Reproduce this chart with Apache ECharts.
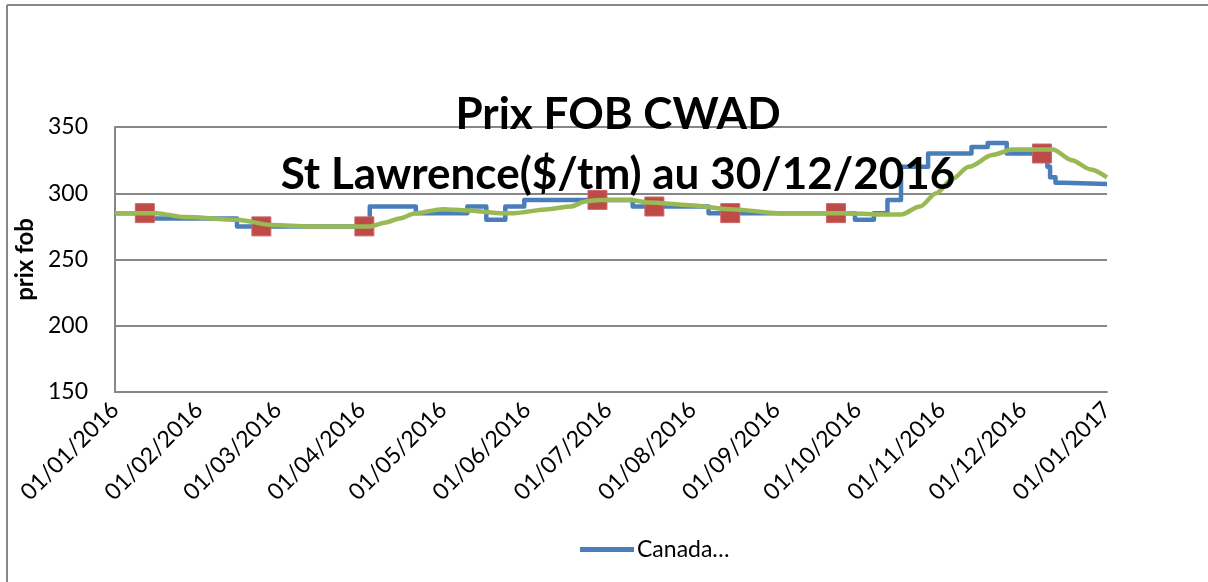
<!DOCTYPE html>
<html>
<head>
<meta charset="utf-8">
<script src="https://cdn.jsdelivr.net/npm/echarts@6/dist/echarts.min.js"></script>
<style>
  html, body { margin: 0; padding: 0; background: #fff; }
  #chart { width: 1208px; height: 582px; }
</style>
</head>
<body>
<div id="chart"></div>
<script>
// Canada... (blue step line): date from which the price holds
const canadaDates = ['2016-01-01', '2016-01-15', '2016-02-15', '2016-04-04', '2016-04-21', '2016-05-10',
  '2016-05-17', '2016-05-24', '2016-05-31', '2016-07-10', '2016-08-07', '2016-09-30',
  '2016-10-07', '2016-10-12', '2016-10-17', '2016-10-27', '2016-11-12', '2016-11-18', '2016-11-25',
  '2016-12-09', '2016-12-10', '2016-12-11', '2016-12-13', '2016-12-16', '2017-01-01'];
const canadaValues = [285, 281, 275, 290, 285, 290, 280, 290, 295, 290, 285, 280,
  285, 295, 320, 330, 335, 338, 330, 330, 320, 312, 308, 307, 307];

// red square markers
const markDates = ['2016-01-12', '2016-02-24', '2016-04-02', '2016-06-27', '2016-07-18', '2016-08-15', '2016-09-23', '2016-12-08'];
const markValues = [285, 275, 275, 295, 290, 285, 285, 330];

// green smoothed line
const avgDates = ['2016-01-01', '2016-01-16', '2016-01-27', '2016-02-15', '2016-02-28', '2016-03-13', '2016-04-04',
  '2016-04-10', '2016-04-15', '2016-04-21', '2016-05-01', '2016-05-10', '2016-05-22', '2016-05-27', '2016-06-09',
  '2016-06-17', '2016-06-23', '2016-06-28', '2016-07-09', '2016-07-16', '2016-07-31', '2016-08-15', '2016-09-02',
  '2016-09-27', '2016-10-09', '2016-10-17', '2016-10-24', '2016-10-30', '2016-11-05', '2016-11-11', '2016-11-20',
  '2016-11-27', '2016-12-12', '2016-12-19', '2016-12-26', '2017-01-01'];
const avgValues = [285, 285, 282, 280, 276, 275, 275, 278, 281, 285, 288, 287, 285, 285, 288,
  290, 294, 295, 295, 293, 291, 288, 285, 285, 284, 284, 290, 300, 311, 320, 329,
  333, 333, 325, 318, 312];

const yTicks = [150, 200, 250, 300, 350];

const font = 'Lato';
const gridColor = '#878787';

const pairs = (d, v) => d.map((x, i) => [x, v[i]]);
const pad = (n) => (n < 10 ? '0' : '') + n;

const chart = echarts.init(document.getElementById('chart'));
chart.setOption({
  animation: false,
  title: {
    text: 'Prix FOB CWAD\nSt Lawrence($/tm) au 30/12/2016',
    left: 613,
    top: 80,
    textAlign: 'center',
    textStyle: { fontFamily: font, fontWeight: 'bold', fontSize: 44, lineHeight: 60, color: '#000' }
  },
  legend: {
    data: ['Canada…'],
    left: 575,
    top: 533,
    itemWidth: 54,
    itemHeight: 5,
    icon: 'rect',
    itemGap: 4,
    textStyle: { fontFamily: font, fontSize: 23, color: '#000', padding: [0, 0, 0, -2] }
  },
  graphic: [
    { type: 'line', shape: { x1: 7, y1: 5, x2: 1208, y2: 5 }, style: { stroke: gridColor, lineWidth: 2 } },
    { type: 'line', shape: { x1: 7, y1: 5, x2: 7, y2: 582 }, style: { stroke: gridColor, lineWidth: 2 } }
  ],
  grid: { left: 115, right: 101, top: 127, bottom: 190 },
  xAxis: {
    type: 'time',
    min: '2016-01-01',
    max: '2017-01-01',
    minInterval: 28 * 864e5,
    maxInterval: 31 * 864e5,
    axisLine: { show: true, lineStyle: { color: gridColor, width: 2 } },
    axisTick: { show: false },
    splitLine: { show: false },
    axisLabel: {
      rotate: 45,
      interval: 0,
      margin: 14,
      hideOverlap: false,
      showMinLabel: true,
      showMaxLabel: true,
      color: '#000',
      fontFamily: font,
      fontSize: 23,
      formatter: (val) => {
        const d = new Date(val);
        return pad(d.getDate()) + '/' + pad(d.getMonth() + 1) + '/' + d.getFullYear();
      }
    }
  },
  yAxis: {
    type: 'value',
    min: yTicks[0],
    max: yTicks[yTicks.length - 1],
    interval: 50,
    name: 'prix fob',
    nameLocation: 'middle',
    nameGap: 72,
    nameRotate: 90,
    nameTextStyle: { fontFamily: font, fontWeight: 'bold', fontSize: 24, color: '#000' },
    axisLine: { show: true, lineStyle: { color: gridColor, width: 2 } },
    axisTick: { show: false },
    splitLine: { lineStyle: { color: gridColor, width: 2 } },
    axisLabel: { color: '#000', fontFamily: font, fontSize: 23, margin: 27 }
  },
  series: [
    {
      name: 'Canada…',
      type: 'line',
      step: 'end',
      showSymbol: false,
      data: pairs(canadaDates, canadaValues),
      lineStyle: { color: '#4A7EBB', width: 4.5, join: 'round' },
      itemStyle: { color: '#4A7EBB' },
      z: 2
    },
    {
      name: 'Marqueurs',
      type: 'line',
      data: pairs(markDates, markValues),
      lineStyle: { width: 0, opacity: 0 },
      symbol: 'rect',
      symbolSize: 19,
      itemStyle: { color: '#BE4B48', borderColor: '#C86A67', borderWidth: 1 },
      z: 3
    },
    {
      name: 'Moyenne',
      type: 'line',
      smooth: 0.3,
      smoothMonotone: 'x',
      showSymbol: false,
      data: pairs(avgDates, avgValues),
      lineStyle: { color: '#98B954', width: 4.5 },
      itemStyle: { color: '#98B954' },
      z: 4
    }
  ]
});
</script>
</body>
</html>
